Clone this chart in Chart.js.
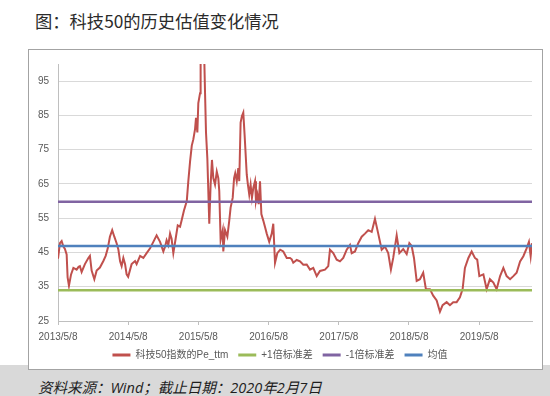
<!DOCTYPE html>
<html>
<head>
<meta charset="utf-8">
<script src="https://cdn.jsdelivr.net/npm/chart.js@4/dist/chart.umd.min.js"></script>
<style>
  html, body { margin: 0; padding: 0; }
  body { width: 550px; height: 396px; position: relative; overflow: hidden; background: #ffffff; }
  #title { position: absolute; left: 35px; top: 12px; font: 17.3px "Noto Sans CJK SC", sans-serif; line-height: 1; color: #2b2b2b; white-space: nowrap; }
  #band { position: absolute; left: 0; top: 365px; width: 550px; height: 31px; background: #d9d9d9; }
  #frame { position: absolute; left: 28px; top: 49px; width: 515px; height: 321px; box-sizing: border-box; border: 1px solid #a3a3a3; background: #ffffff; }
  #wrap { position: absolute; left: 28px; top: 49px; width: 515px; height: 321px; }
  #footer { position: absolute; left: 38px; top: 381px; font: italic 14.5px "Open Sans", "Noto Sans CJK SC", sans-serif; line-height: 1; color: #1f1f1f; white-space: nowrap; }
</style>
</head>
<body>
<div id="title">图：科技50的历史估值变化情况</div>
<div id="band"></div>
<div id="frame"></div>
<div id="wrap"><canvas id="c" width="515" height="321"></canvas></div>
<div id="footer">资料来源：Wind；截止日期：2020年2月7日</div>
<script>
// Observation dates (categories)
const dates = [
  "2013/5/8","2013/5/18","2013/5/27","2013/6/5","2013/6/13","2013/6/22","2013/6/27","2013/7/4","2013/7/15","2013/7/27",
  "2013/8/13","2013/8/23","2013/8/30","2013/9/8","2013/9/25","2013/10/13","2013/10/21","2013/10/30","2013/11/13","2013/11/25",
  "2013/12/12","2013/12/30","2014/1/11","2014/1/22","2014/2/2","2014/2/14","2014/2/25","2014/3/9","2014/3/18","2014/3/27",
  "2014/4/4","2014/4/13","2014/4/22","2014/4/30","2014/5/8","2014/5/26","2014/6/13","2014/6/21","2014/7/9","2014/7/26",
  "2014/8/12","2014/8/30","2014/9/16","2014/10/3","2014/10/21","2014/11/7","2014/11/16","2014/11/24","2014/12/3","2014/12/12",
  "2014/12/20","2014/12/29","2015/1/10","2015/1/21","2015/2/2","2015/2/10","2015/2/22","2015/3/9","2015/3/17","2015/3/26",
  "2015/4/4","2015/4/12","2015/4/21","2015/4/26","2015/5/3","2015/5/8","2015/5/17","2015/5/20","2015/6/7","2015/6/12",
  "2015/6/17","2015/6/24","2015/7/4","2015/7/11","2015/7/18","2015/7/25","2015/8/3","2015/8/12","2015/8/20","2015/8/25",
  "2015/9/1","2015/9/12","2015/9/15","2015/9/24","2015/10/6","2015/10/16","2015/10/23","2015/11/3","2015/11/10","2015/11/16",
  "2015/11/24","2015/12/2","2015/12/7","2015/12/14","2015/12/21","2015/12/28","2016/1/4","2016/1/15","2016/1/21","2016/1/28",
  "2016/2/4","2016/2/11","2016/2/18","2016/2/27","2016/3/3","2016/3/10","2016/3/17","2016/3/24","2016/3/31","2016/4/10",
  "2016/4/19","2016/4/28","2016/5/11","2016/5/24","2016/6/1","2016/6/10","2016/6/22","2016/7/7","2016/7/23","2016/8/10",
  "2016/8/27","2016/9/5","2016/9/13","2016/10/1","2016/10/18","2016/11/4","2016/11/22","2016/12/9","2016/12/26","2017/1/13",
  "2017/1/30","2017/2/25","2017/3/14","2017/3/23","2017/4/9","2017/4/27","2017/5/14","2017/5/31","2017/6/18","2017/7/5",
  "2017/7/14","2017/7/31","2017/8/17","2017/9/4","2017/9/21","2017/10/8","2017/10/26","2017/11/12","2017/11/29","2017/12/17",
  "2018/1/3","2018/1/20","2018/2/3","2018/2/15","2018/3/5","2018/3/19","2018/4/8","2018/4/26","2018/5/10","2018/5/22",
  "2018/6/3","2018/6/17","2018/7/4","2018/7/21","2018/8/4","2018/8/25","2018/9/11","2018/9/29","2018/10/16","2018/10/30",
  "2018/11/20","2018/12/7","2018/12/24","2019/1/11","2019/1/28","2019/2/11","2019/2/23","2019/3/13","2019/3/30","2019/4/16",
  "2019/4/28","2019/5/9","2019/5/30","2019/6/16","2019/7/3","2019/7/21","2019/8/7","2019/8/25","2019/9/11","2019/9/28",
  "2019/10/16","2019/11/2","2019/11/19","2019/12/7","2019/12/24","2020/1/10","2020/1/22","2020/1/31","2020/2/7"
];

// 科技50指数的Pe_ttm (values above 100 run off the top of the axis)
const peTtm = [
  43.2,47.7,48.3,46.7,46.0,44.4,37.7,35.3,38.6,40.5,
  40.0,40.8,41.0,39.3,41.6,43.4,44.0,39.7,37.2,39.7,
  40.6,42.5,44.0,46.2,49.6,51.5,49.6,47.7,45.9,42.4,
  41.0,43.4,41.6,38.6,37.9,41.6,42.5,41.6,44.0,43.4,
  44.8,46.2,48.1,50.0,48.1,45.3,46.7,48.6,47.2,50.5,
  49.0,44.8,49.0,52.9,52.5,54.3,57.2,60.0,65.8,71.5,
  76.2,78.0,81.0,84.3,80.0,88.6,91.5,104,104,91.5,
  80.0,72.4,53.4,64.8,72.0,66.7,64.8,68.6,66.7,62.9,
  48.6,51.5,45.3,51.5,49.6,54.3,58.1,61.0,66.7,68.1,
  65.8,69.6,65.8,82.9,84.8,85.8,79.1,67.7,64.8,61.9,
  64.8,61.0,63.8,65.8,60.0,61.9,59.1,65.8,56.2,54.3,
  52.4,50.5,48.1,50.5,53.4,42.0,44.8,45.8,45.3,43.4,
  43.4,43.0,42.0,42.8,42.4,41.4,41.5,40.0,40.5,38.1,
  39.6,40.0,41.0,45.8,44.8,42.9,42.4,43.4,45.8,47.2,
  44.8,45.3,47.7,49.6,50.5,51.5,51.0,54.8,50.5,45.8,
  46.7,44.8,40.0,43.4,50.0,44.8,46.0,44.5,47.7,46.9,
  43.4,36.7,37.2,39.1,34.3,34.3,32.4,31.0,27.7,29.6,
  30.5,29.6,30.5,30.5,31.9,34.3,40.5,43.4,45.3,43.4,
  42.9,38.1,38.6,34.3,37.2,36.2,34.3,38.1,40.5,38.1,
  37.2,38.1,39.1,42.4,43.9,46.2,48.1,43.9,47.7
];

// Reference levels
const meanValue = 46.9;     // 均值
const plusOneStd = 34.0;    // +1倍标准差 (as labelled)
const minusOneStd = 59.8;   // -1倍标准差 (as labelled)

// Axis ticks
const xTickLabels = ["2013/5/8","2014/5/8","2015/5/8","2016/5/8","2017/5/8","2018/5/8","2019/5/8"];
const yTickValues = [25,35,45,55,65,75,85,95];

// day number helper (days since first date)
const toDay = s => { const [y, m, d] = s.split('/').map(Number); return Date.UTC(y, m - 1, d) / 86400000; };
const day0 = toDay(dates[0]);
const dayOf = s => toDay(s) - day0;
const lastDay = dayOf(dates[dates.length - 1]);

const pePoints = dates.map((s, i) => ({ x: dayOf(s), y: peTtm[i] }));
const level = v => [{ x: 0, y: v }, { x: lastDay, y: v }];

const tickFont = { family: '"Liberation Sans", Arial, sans-serif', size: 10 };

new Chart(document.getElementById('c'), {
  type: 'line',
  data: {
    datasets: [
      { label: '科技50指数的Pe_ttm', data: pePoints, borderColor: '#c0504d', backgroundColor: '#c0504d', borderWidth: 2, pointRadius: 0, tension: 0, order: 1 },
      { label: '+1倍标准差', data: level(plusOneStd), borderColor: '#9bbb59', backgroundColor: '#9bbb59', borderWidth: 2.5, pointRadius: 0, order: 0 },
      { label: '-1倍标准差', data: level(minusOneStd), borderColor: '#8064a2', backgroundColor: '#8064a2', borderWidth: 2.5, pointRadius: 0, order: 0 },
      { label: '均值', data: level(meanValue), borderColor: '#4f81bd', backgroundColor: '#4f81bd', borderWidth: 2.5, pointRadius: 0, order: 0 }
    ]
  },
  options: {
    responsive: false,
    animation: false,
    events: [],
    parsing: true,
    layout: { padding: { left: 0, right: 11, top: 11, bottom: 0 } },
    scales: {
      x: {
        type: 'linear',
        min: 0, max: lastDay,
        afterBuildTicks: s => { s.ticks = xTickLabels.map(l => ({ value: dayOf(l) })); },
        afterFit: s => { s.height = 19; },
        grid: { display: true, drawOnChartArea: false, drawTicks: true, tickLength: 4, color: '#bfbfbf' },
        border: { display: true, color: '#bfbfbf' },
        ticks: { autoSkip: false, maxRotation: 0, padding: 6, color: '#595959', font: tickFont,
                 callback: v => { const l = xTickLabels.find(t => dayOf(t) === v); return l || ''; } }
      },
      y: {
        min: 25, max: 100,
        afterBuildTicks: s => { s.ticks = yTickValues.map(v => ({ value: v })); },
        afterFit: s => { s.width = 30; },
        grid: { color: '#d9d9d9', lineWidth: 1, drawTicks: false },
        border: { display: true, color: '#bfbfbf' },
        ticks: { padding: 9, color: '#595959', font: tickFont }
      }
    },
    plugins: {
      tooltip: { enabled: false },
      legend: {
        position: 'bottom',
        labels: {
          boxWidth: 18, boxHeight: 3, padding: 10, color: '#595959',
          font: { family: '"Liberation Sans", "Noto Sans CJK SC", sans-serif', size: 10 },
          sort: (a, b) => a.datasetIndex - b.datasetIndex,
          generateLabels: chart => {
            const items = Chart.defaults.plugins.legend.labels.generateLabels(chart);
            items.forEach(it => { it.lineWidth = 0; it.fillStyle = it.strokeStyle; });
            return items;
          }
        }
      }
    }
  }
});
</script>
</body>
</html>
